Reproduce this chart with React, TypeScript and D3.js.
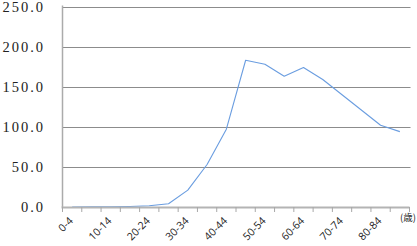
import React from "react";
import * as d3 from "d3";

const categories = ["0-4","5-9","10-14","15-19","20-24","25-29","30-34","35-39","40-44","45-49","50-54","55-59","60-64","65-69","70-74","75-79","80-84","85-"];
const values = [0, 0.1, 0.3, 0.7, 1.5, 4, 21, 53, 97, 183, 178, 163, 174, 159, 140, 121, 102, 94];
const yTicks = [0, 50, 100, 150, 200, 250];
const labelled = ["0-4","10-14","20-24","30-34","40-44","50-54","60-64","70-74","80-84"];
const unitLabel = "(歳)";

export default function App() {
  const W = 417, H = 246;
  const left = 62.5, right = 409.5, top = 6.5, bottom = 207;
  const x = d3.scaleBand<string>().domain(categories).range([left, right]).padding(0);
  const y = d3.scaleLinear().domain([0, 250]).range([bottom, top]);
  const line = d3.line<number>()
    .x((_, i) => (x(categories[i]) as number) + x.bandwidth() / 2)
    .y((d) => y(d))
    .curve(d3.curveLinear);
  const tickXs = categories.map((c) => x(c) as number).concat([right]);
  return (
    <svg width={W} height={H} style={{ position: "absolute", left: 0, top: 0 }}>
      <rect x={0} y={0} width={W} height={H} fill="#fff" />
      {yTicks.filter((t) => t > 0).map((t) => (
        <line key={t} x1={left} x2={right + 1} y1={Math.round(y(t)) + 0.5} y2={Math.round(y(t)) + 0.5} stroke="#8c8c8c" strokeWidth={1.2} />
      ))}
      <line x1={left} x2={left} y1={top - 1} y2={bottom} stroke="#ababab" strokeWidth={1.5} />
      {yTicks.map((t) => (
        <text key={t} x={45} y={y(t) + 5} textAnchor="end" fontFamily="'Liberation Serif', serif" fontSize={14.5} letterSpacing={2} fill="#222">
          {t.toFixed(1)}
        </text>
      ))}
      <path d={line(values) || ""} fill="none" stroke="#6a9de0" strokeWidth={1.1} strokeLinejoin="round" />
      <line x1={left - 1} x2={right} y1={bottom + 0.5} y2={bottom + 0.5} stroke="#b4b4b4" strokeWidth={2} />
      {tickXs.map((tx, i) => (
        <line key={i} x1={tx} x2={tx} y1={bottom} y2={bottom + 5} stroke="#a8a8a8" strokeWidth={1} />
      ))}
      {categories.filter((c) => labelled.includes(c)).map((c) => {
        const cx = (x(c) as number) + x.bandwidth() / 2;
        return (
          <text key={c} transform={`translate(${cx - 1},${bottom + 12}) rotate(-45)`} textAnchor="end" fontFamily="'Open Sans', 'DejaVu Sans', sans-serif" fontSize={10.5} fill="#222" dy="0.35em">
            {c}
          </text>
        );
      })}
      <text x={400} y={bottom + 14} fontFamily="'Noto Sans CJK JP', sans-serif" fontSize={9.5} fill="#222">{unitLabel}</text>
    </svg>
  );
}
